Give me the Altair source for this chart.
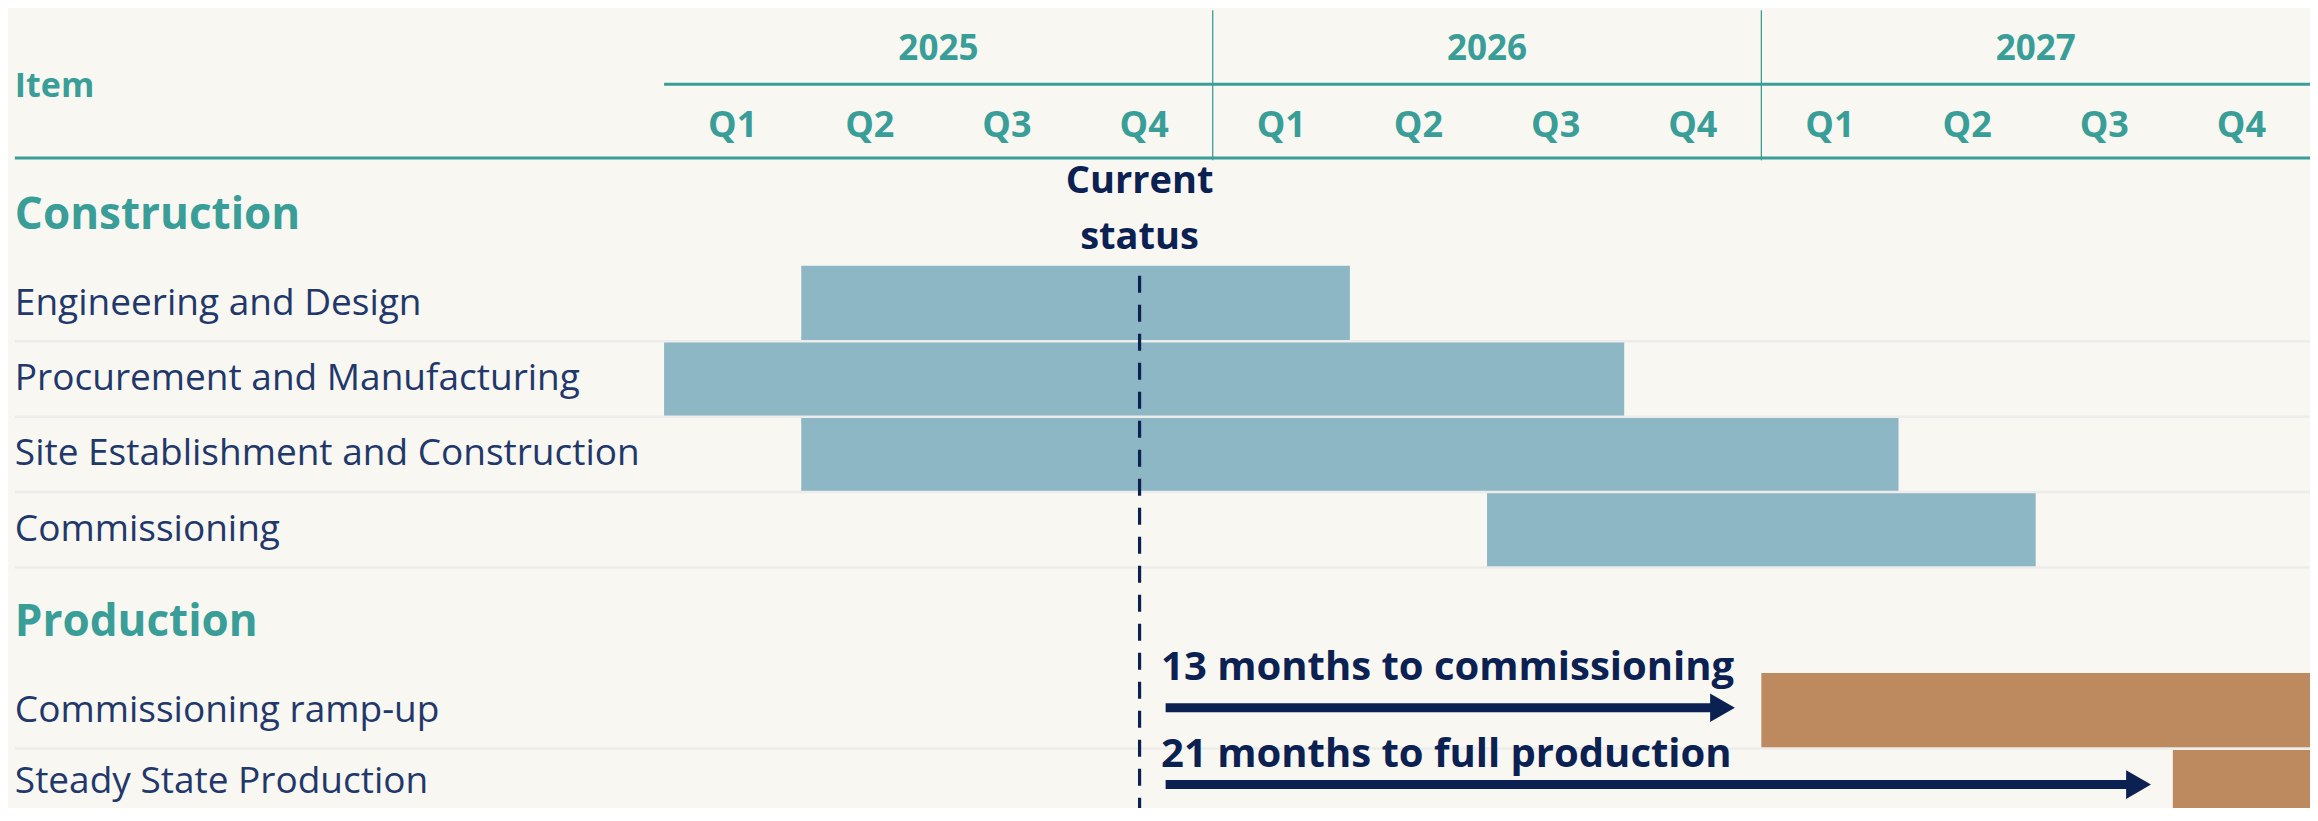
import altair as alt
import pandas as pd

# ---------------- data ----------------
tasks = ["Engineering and Design", "Procurement and Manufacturing",
         "Site Establishment and Construction", "Commissioning",
         "Commissioning ramp-up", "Steady State Production"]
groups = ["Construction", "Construction", "Construction", "Construction",
          "Production", "Production"]
start_month = [3, 0, 3, 18, 24, 33]      # months from Jan 2025
end_month = [15, 21, 27, 30, 36, 36]
years = ["2025", "2026", "2027"]
quarters = ["Q1", "Q2", "Q3", "Q4", "Q1", "Q2", "Q3", "Q4", "Q1", "Q2", "Q3", "Q4"]
current_status_month = 10.4
annotation_text = ["13 months to commissioning", "21 months to full production"]
arrow_start = [10.97, 10.97]
arrow_tip = [23.45, 32.55]

# ---------------- style / layout ----------------
BG = "#F8F7F2"
TEAL = "#3A9E98"
NAVY = "#0B2152"
LABEL = "#22386A"
BLUE = "#8EB7C5"
BROWN = "#BC8A5E"
SEP = "#ECECEA"
FONT = "Open Sans"

W, H = 2302, 800
ROW = 75.4                       # px per row unit
X_DOMAIN = [-14.35, 36]
Y_DOMAIN = [0, H / ROW]
LABEL_X = -14.2

# vertical layout in row units
header_year_y = 0.54
header_line1_y = 1.01
header_q_y = 1.56
header_line2_y = 1.99
group_title_y = {"Construction": 2.76, "Production": 8.15}
row_top = [3.42, 4.42, 5.42, 6.42, 8.82, 9.84]

xs = alt.Scale(domain=X_DOMAIN, nice=False, zero=False)
ys = alt.Scale(domain=Y_DOMAIN, reverse=True, nice=False, zero=False)


def X(f):
    return alt.X(f, type="quantitative", scale=xs, axis=None)


def Y(f):
    return alt.Y(f, type="quantitative", scale=ys, axis=None)


# tables
bars = pd.DataFrame({
    "task": tasks, "group": groups, "start": start_month, "end": end_month,
    "top": row_top, "bottom": [t + 1.0 for t in row_top],
})
bars["mid"] = (bars["top"] + bars["bottom"]) / 2
bars["label_y"] = bars["mid"].clip(upper=Y_DOMAIN[1] - 0.34)   # keep descenders inside
bars["lx"] = LABEL_X

year_df = pd.DataFrame({"label": years, "x": [12 * i + 6 for i in range(len(years))],
                        "y": header_year_y})
q_df = pd.DataFrame({"label": quarters, "x": [3 * i + 1.5 for i in range(len(quarters))],
                     "y": header_q_y})
div_df = pd.DataFrame({"x": [12 * i for i in range(1, len(years))], "y": 0.03, "y2": 2.02})
hline_df = pd.DataFrame({"x": [0, LABEL_X], "x2": [36, 36],
                         "y": [header_line1_y, header_line2_y]})
sep_df = pd.DataFrame({"x": LABEL_X, "x2": 36, "y": [t + 1.0 for t in row_top]})
group_df = pd.DataFrame({"label": list(group_title_y.keys()), "x": LABEL_X,
                         "y": list(group_title_y.values())})
item_df = pd.DataFrame({"label": ["Item"], "x": [LABEL_X], "y": [1.05]})
status_df = pd.DataFrame({"x": [current_status_month], "y": [3.55], "y2": [Y_DOMAIN[1]],
                          "label": ["Current\nstatus"], "ty": [2.31]})
ann_df = pd.DataFrame({"label": annotation_text, "x": [10.87, 10.87], "y": [8.75, 9.91],
                       "ax": arrow_start, "ax2": [t - 0.4 for t in arrow_tip],
                       "ay": [9.28, 10.30], "hx": [t - 0.3 for t in arrow_tip]})

# ---------------- layers ----------------
bar_layer = alt.Chart(bars).mark_rect(clip=True).encode(
    x=X("start"), x2="end", y=Y("top"), y2="bottom",
    color=alt.Color("group:N", scale=alt.Scale(domain=["Construction", "Production"],
                                                range=[BLUE, BROWN]), legend=None),
)

sep_layer = alt.Chart(sep_df).mark_rule(color=SEP, strokeWidth=2.5).encode(
    x=X("x"), x2="x2", y=Y("y"))

row_labels = alt.Chart(bars).mark_text(align="left", baseline="middle", font=FONT,
                                       fontSize=37, color=LABEL).encode(
    x=X("lx"), y=Y("label_y"), text="task")

group_labels = alt.Chart(group_df).mark_text(align="left", baseline="middle", font=FONT,
                                             fontSize=44, fontWeight="bold", color=TEAL).encode(
    x=X("x"), y=Y("y"), text="label")

item_label = alt.Chart(item_df).mark_text(align="left", baseline="middle", font=FONT,
                                          fontSize=34, fontWeight="bold", color=TEAL).encode(
    x=X("x"), y=Y("y"), text="label")

year_labels = alt.Chart(year_df).mark_text(align="center", baseline="middle", font=FONT,
                                           fontSize=35, fontWeight="bold", color=TEAL).encode(
    x=X("x"), y=Y("y"), text="label")

q_labels = alt.Chart(q_df).mark_text(align="center", baseline="middle", font=FONT,
                                     fontSize=36, fontWeight="bold", color=TEAL).encode(
    x=X("x"), y=Y("y"), text="label")

hlines = alt.Chart(hline_df).mark_rule(color=TEAL, strokeWidth=3).encode(
    x=X("x"), x2="x2", y=Y("y"))

dividers = alt.Chart(div_df).mark_rule(color=TEAL, strokeWidth=1.3).encode(
    x=X("x"), y=Y("y"), y2="y2")

status_line = alt.Chart(status_df).mark_rule(color=NAVY, strokeWidth=3.2,
                                             strokeDash=[17, 12]).encode(
    x=X("x"), y=Y("y"), y2="y2")

status_text = alt.Chart(status_df).mark_text(align="center", baseline="middle", font=FONT,
                                             fontSize=38, fontWeight="bold", color=NAVY,
                                             lineBreak="\n", lineHeight=56).encode(
    x=X("x"), y=Y("ty"), text="label")

ann_text = alt.Chart(ann_df).mark_text(align="left", baseline="middle", font=FONT,
                                       fontSize=40, fontWeight="bold", color=NAVY).encode(
    x=X("x"), y=Y("y"), text="label")

arrow_shaft = alt.Chart(ann_df).mark_rule(color=NAVY, strokeWidth=9).encode(
    x=X("ax"), x2="ax2", y=Y("ay"))

arrow_head = alt.Chart(ann_df).mark_point(shape="triangle-right", filled=True, size=820,
                                          color=NAVY, opacity=1).encode(
    x=X("hx"), y=Y("ay"))

chart = alt.layer(
    bar_layer, sep_layer, row_labels, group_labels, item_label, year_labels, q_labels,
    hlines, dividers, status_line, status_text, ann_text, arrow_shaft, arrow_head,
).properties(
    width=W, height=H, background=BG, padding=0,
    autosize=alt.AutoSizeParams(type="none"),
).configure_view(strokeWidth=0)

chart.save("out.html", embed_options={"renderer": "svg", "actions": False})
